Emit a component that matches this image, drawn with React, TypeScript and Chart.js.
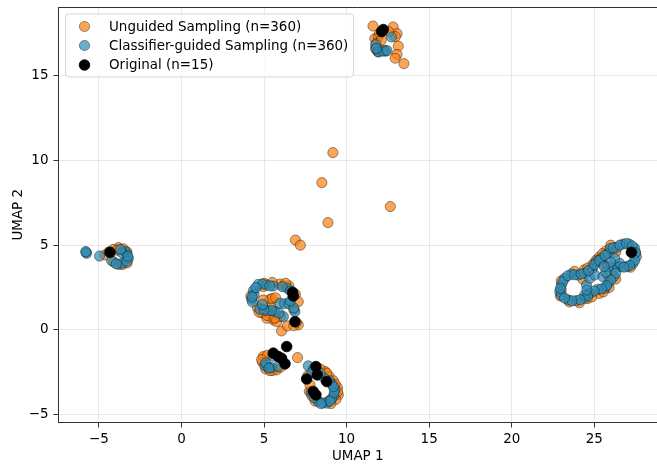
import React, { useEffect, useRef } from "react";
import { Chart, registerables } from "chart.js";

Chart.register(...registerables);

const xTicks = [-5, 0, 5, 10, 15, 20, 25];
const yTicks = [-5, 0, 5, 10, 15];
const seriesNames = ["Unguided Sampling (n=360)", "Classifier-guided Sampling (n=360)", "Original (n=15)"];

const unguided: number[][] = [
  [11.6,17.93],[12.82,17.87],[13.06,17.48],[12.95,17.3],[13.13,16.74],[13.05,16.25],[12.94,16.03],[13.47,15.71],[11.71,17.19],[11.92,17.28],[11.8,16.9],[11.75,16.6],[12.0,17.5],[12.1,17.1],[12.55,17.6],[12.3,16.5],[11.9,16.4],
  [9.17,10.46],[8.5,8.69],[8.87,6.33],[12.65,7.28],[6.9,5.3],[7.2,5.0],
  [-3.82,4.85],[-4.13,4.75],[-3.52,4.78],[-3.3,4.6],[-4.63,4.42],[-4.4,4.6],[-3.9,4.7],[-3.6,3.85],[-3.3,3.95],[-4.1,4.0],
  [5.36,1.81],[5.5,1.85],[6.06,-0.06],[6.41,0.24],[7.07,0.3],[7.07,1.67],[5.96,2.71],[5.56,0.59],[5.16,0.69],[4.85,1.02],[5.76,0.49],[4.95,1.77],[5.4,1.3],[5.0,2.75],[5.5,2.8],[6.2,2.6],[6.8,1.2],[6.9,2.1],[4.2,2.0],[4.6,1.3],[5.7,1.9],[6.8,0.25],[5.3,0.95],[6.0,0.8],[6.5,2.6],[5.2,0.85],[5.65,0.7],[4.7,1.05],[6.95,0.45],[6.3,2.75],[4.95,2.55],
  [7.03,-1.63],[4.95,-1.57],[5.76,-2.36],[4.9,-1.9],[5.2,-1.5],[5.5,-2.4],[6.0,-2.2],[5.1,-2.3],[5.35,-2.4],[4.85,-1.75],
  [8.69,-2.45],[9.45,-3.4],[9.5,-3.83],[7.74,-3.63],[7.78,-3.24],[8.95,-2.75],[9.2,-3.0],[8.4,-2.3],[8.9,-4.2],[8.1,-4.2],[9.35,-4.1],[7.9,-3.9],[7.65,-2.7],[9.05,-4.35],[9.3,-3.2],[8.8,-2.55],[9.45,-3.65],
  [23.0,2.9],[23.8,3.45],[24.4,3.55],[24.9,3.85],[25.3,4.3],[25.7,4.65],[26.0,5.0],[26.3,4.6],[25.3,2.15],[24.6,1.85],[24.1,1.6],[23.5,1.65],[22.95,2.0],[25.9,2.5],[26.3,3.0],[27.5,4.55],[27.2,3.7],[24.3,3.0],[23.0,2.35],[25.55,3.9],[25.85,3.2],[25.5,4.5],[24.6,3.65],[25.1,4.1],[24.85,1.95],[25.55,2.25],
];

const guided: number[][] = [
  [11.88,16.46],[12.36,16.44],[12.72,17.28],[11.76,16.83],[11.95,16.4],[12.2,16.45],[12.45,16.48],[11.8,16.6],
  [-5.78,4.58],[-5.75,4.52],[-5.8,4.62],[-4.97,4.36],[-3.82,3.87],[-3.32,4.48],[-3.42,4.62],[-3.22,4.22],[-3.55,3.95],[-4.23,4.09],[-3.3,4.05],[-3.6,4.55],[-3.95,3.9],[-3.25,4.35],[-3.7,4.75],
  [4.25,1.81],[4.35,2.32],[4.65,2.69],[5.16,2.65],[5.56,2.59],[6.41,2.46],[5.96,1.57],[6.25,1.55],[6.87,1.08],[6.17,0.79],[5.66,1.08],[5.2,1.14],[4.75,1.22],[4.3,1.65],[4.4,2.1],[4.9,2.7],[5.35,2.6],[6.1,2.55],[6.6,2.3],[6.5,1.55],[6.8,1.3],[5.9,1.0],[5.45,1.15],[5.0,1.18],[4.9,1.5],[6.6,1.7],[4.5,2.5],[4.28,1.95],
  [5.2,-2.16],[5.05,-2.1],[5.45,-2.22],[5.1,-1.95],[5.55,-1.55],[5.85,-2.15],[5.3,-2.25],
  [7.68,-2.12],[8.0,-2.3],[9.23,-3.89],[9.29,-3.53],[8.79,-4.32],[8.28,-4.22],[9.1,-3.2],[8.95,-3.0],[7.9,-2.5],[8.55,-4.3],[9.1,-4.05],[8.05,-4.0],[7.85,-3.7],[8.65,-2.85],[8.4,-2.55],[9.0,-4.2],[8.45,-4.35],[9.25,-3.7],[9.2,-3.35],
  [22.91,2.26],[23.01,2.65],[23.21,3.05],[23.62,3.3],[24.02,3.24],[24.42,3.34],[24.89,3.63],[25.13,4.03],[25.43,4.22],[25.84,4.52],[25.98,4.81],[26.38,4.87],[26.75,5.07],[27.11,5.07],[27.45,4.81],[27.55,4.32],[27.35,3.93],[26.99,3.73],[26.64,3.73],[26.38,3.73],[26.18,3.54],[26.18,3.14],[25.84,2.75],[25.64,2.46],[25.23,2.4],[24.73,2.16],[24.42,1.87],[23.92,1.73],[23.42,1.77],[23.01,2.06],
  [24.53,2.65],[24.42,2.06],[24.73,3.05],[25.03,3.24],[25.53,3.14],[25.84,3.73],[26.54,3.93],[26.24,4.22],[23.1,2.85],[23.4,3.2],[23.8,3.25],[24.2,3.3],[24.65,3.5],[25.0,3.85],[25.3,4.1],[25.65,4.4],[26.15,4.85],[26.55,5.0],[26.95,5.1],[27.3,4.95],[27.5,4.55],[27.45,4.1],[27.15,3.8],[26.8,3.7],[26.3,3.35],[26.0,2.95],[25.75,2.6],[25.45,2.42],[25.0,2.3],[24.6,2.0],[24.15,1.78],[23.65,1.72],[23.2,1.88],[22.95,2.45],[25.7,3.4],[26.0,4.0],[25.6,3.75],[24.55,2.35],
];

const original: number[][] = [
  [12.22,17.72],[12.12,17.6],[-4.33,4.58],[6.77,2.0],[6.73,2.22],[6.87,0.49],[6.37,-0.98],[5.56,-1.37],[5.86,-1.57],[6.06,-1.67],[6.27,-2.0],[8.14,-2.16],[8.22,-2.65],[7.58,-2.89],[8.79,-3.04],[7.98,-3.63],[8.14,-3.83],[27.25,4.58],
];

const toPoints = (rows: number[][]) => rows.map(([x, y]) => ({ x, y }));
const FONT = "'DejaVu Sans'";

const frame = {
  id: "frame",
  afterDatasetsDraw(chart: any) {
    const { ctx, chartArea: a } = chart;
    ctx.save();
    ctx.strokeStyle = "#333";
    ctx.lineWidth = 1;
    ctx.beginPath();
    ctx.moveTo(a.left, a.top + 0.5);
    ctx.lineTo(a.right, a.top + 0.5);
    ctx.stroke();

    // legend
    const bx = 65.5, by = 14, bw = 288, bh = 63, r = 3;
    ctx.beginPath();
    ctx.roundRect(bx, by, bw, bh, r);
    ctx.fillStyle = "rgba(255,255,255,0.8)";
    ctx.fill();
    ctx.strokeStyle = "rgba(204,204,204,0.8)";
    ctx.stroke();
    const rows = [26.5, 45.5, 65];
    chart.data.datasets.forEach((d: any, i: number) => {
      ctx.beginPath();
      ctx.arc(84.5, rows[i], d.pointRadius, 0, Math.PI * 2);
      ctx.fillStyle = d.backgroundColor;
      ctx.fill();
      ctx.strokeStyle = d.borderColor;
      ctx.lineWidth = d.borderWidth;
      ctx.stroke();
      ctx.fillStyle = "#000";
      ctx.font = `13.47px ${FONT}`;
      ctx.textBaseline = "middle";
      ctx.textAlign = "left";
      ctx.fillText(d.label, 109, rows[i] + 0.5);
    });
    ctx.restore();
  },
};

export default function App() {
  const ref = useRef<HTMLCanvasElement>(null);
  useEffect(() => {
    const chart = new Chart(ref.current!, {
      type: "scatter",
      data: {
        datasets: [
          { label: seriesNames[0], data: toPoints(unguided), order: 3, backgroundColor: "rgba(252,127,14,0.7)", borderColor: "rgba(0,0,0,0.5)", borderWidth: 0.8, pointRadius: 5.1 },
          { label: seriesNames[1], data: toPoints(guided), order: 2, backgroundColor: "rgba(46,140,180,0.7)", borderColor: "rgba(0,0,0,0.5)", borderWidth: 0.8, pointRadius: 5.1 },
          { label: seriesNames[2], data: toPoints(original), order: 1, backgroundColor: "#000", borderColor: "#000", borderWidth: 0.8, pointRadius: 5.3 },
        ],
      },
      plugins: [frame],
      options: {
        responsive: false,
        animation: false,
        layout: { autoPadding: false, padding: { top: 7, left: 0, right: 0, bottom: 0 } },
        plugins: { legend: { display: false }, tooltip: { enabled: false } },
        scales: {
          x: {
            type: "linear",
            min: -7.45,
            max: 28.8,
            afterBuildTicks: (s: any) => { s.ticks = xTicks.map((value) => ({ value })); },
            afterFit: (s: any) => { s.height = 45.5; s.paddingLeft = 0; s.paddingRight = 0; },
            grid: { color: "rgba(176,176,176,0.3)", lineWidth: 1, tickLength: 5, tickColor: "#333" },
            border: { color: "#333", width: 1 },
            ticks: { color: "#000", padding: 4, maxRotation: 0, font: { family: FONT, size: 13.47 }, callback: (v: any) => String(v).replace("-", "\u2212") },
            title: { display: true, text: "UMAP 1", color: "#000", padding: { top: 0, bottom: 3 }, font: { family: FONT, size: 13.47 } },
          },
          y: {
            type: "linear",
            min: -5.46,
            max: 19.05,
            afterBuildTicks: (s: any) => { s.ticks = yTicks.map((value) => ({ value })); },
            afterFit: (s: any) => { s.width = 58.5; s.paddingTop = 0; s.paddingBottom = 0; },
            grid: { color: "rgba(176,176,176,0.3)", lineWidth: 1, tickLength: 5, tickColor: "#333" },
            border: { color: "#333", width: 1 },
            ticks: { color: "#000", padding: 5, font: { family: FONT, size: 13.47 }, callback: (v: any) => String(v).replace("-", "\u2212") },
            title: { display: true, text: "UMAP 2", color: "#000", padding: { top: 10, bottom: 0 }, font: { family: FONT, size: 13.47 } },
          },
        },
      } as any,
    });
    return () => chart.destroy();
  }, []);
  return <canvas ref={ref} width={657} height={468} style={{ position: "absolute", left: 0, top: 0, display: "block" }} />;
}
